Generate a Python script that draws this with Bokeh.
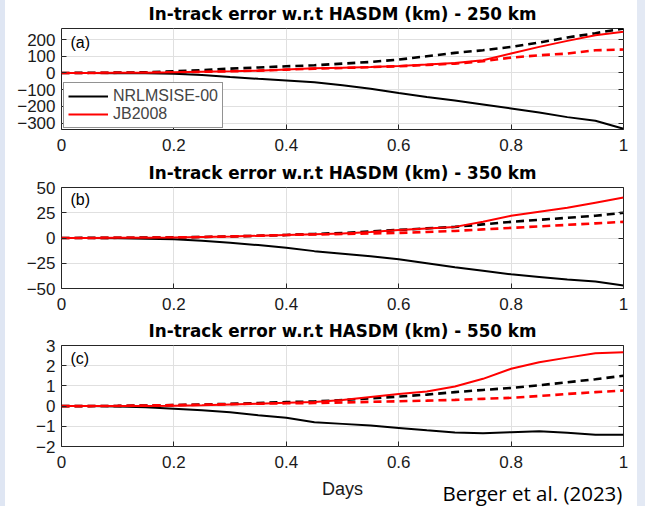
from bokeh.plotting import figure
from bokeh.models import Label, Div, FixedTicker, LinearAxis, CustomJSTickFormatter, Title
from bokeh.layouts import row, column
from bokeh.embed import file_html
from bokeh.resources import INLINE

# ---------------- data ----------------
days = [0, .05, .1, .15, .2, .25, .3, .35, .4, .45, .5, .55, .6, .65, .7, .75, .8, .85, .9, .95, 1.0]

# (a) 250 km
nrl_a = [0, 0, -1, -2, -5, -12, -24, -35, -45, -55, -74, -94, -120, -144, -164, -188, -212, -236, -264, -286, -334]
jb_a = [0, 0, 1, 2, 4, 7, 10, 14, 21, 28, 31, 36, 42, 50, 60, 76, 116, 156, 192, 226, 246]
nrl_a_dash = [0, 1, 2, 4, 10, 17, 26, 33, 40, 46, 56, 66, 80, 100, 120, 136, 156, 182, 212, 238, 266]
jb_a_dash = [0, 0, 1, 2, 4, 7, 10, 14, 20, 26, 30, 35, 40, 48, 56, 70, 92, 106, 116, 136, 140]

# (b) 350 km
nrl_b = [0, 0, -0.3, -0.7, -1.3, -2.8, -4.7, -7, -9.7, -13, -15.5, -18, -21, -25, -29, -32.5, -36, -38.5, -41, -43, -47]
jb_b = [0, 0, 0.2, 0.3, 0.5, 1, 1.5, 2.2, 3, 3.7, 4.5, 6, 8, 9.5, 11, 16, 22, 26, 30, 35, 40]
nrl_b_dash = [0, 0.1, 0.2, 0.4, 0.6, 1, 1.5, 2.2, 3, 4, 5, 6.5, 8, 9.5, 11, 13.5, 16, 18, 20, 22, 25]
jb_b_dash = [0, 0, 0.2, 0.3, 0.5, 1, 1.5, 2.2, 3, 3.5, 4, 4.5, 5, 6, 7, 8.5, 10, 11.5, 13, 14.5, 16]

# (c) 550 km
nrl_c = [0, 0, -0.02, -0.06, -0.13, -0.2, -0.3, -0.45, -0.58, -0.8, -0.88, -0.96, -1.08, -1.2, -1.31, -1.34, -1.29, -1.24, -1.32, -1.42, -1.42]
jb_c = [0, 0, 0, 0.01, 0.02, 0.04, 0.08, 0.12, 0.17, 0.2, 0.3, 0.45, 0.6, 0.72, 0.97, 1.35, 1.85, 2.17, 2.4, 2.62, 2.67]
nrl_c_dash = [0, 0, 0.01, 0.03, 0.05, 0.08, 0.11, 0.15, 0.2, 0.23, 0.3, 0.38, 0.47, 0.57, 0.69, 0.8, 0.9, 1.03, 1.18, 1.33, 1.5]
jb_c_dash = [0, 0, 0.01, 0.03, 0.05, 0.07, 0.1, 0.12, 0.14, 0.15, 0.18, 0.21, 0.24, 0.27, 0.31, 0.36, 0.41, 0.5, 0.6, 0.69, 0.77]

x_ticks = [0, 0.2, 0.4, 0.6, 0.8, 1.0]
x_tick_labels = ["0", "0.2", "0.4", "0.6", "0.8", "1"]
y_ticks_a = [-300, -200, -100, 0, 100, 200]
y_ticks_b = [-50, -25, 0, 25, 50]
y_ticks_c = [-2, -1, 0, 1, 2, 3]

titles = ["In-track error w.r.t HASDM (km) - 250 km",
          "In-track error w.r.t HASDM (km) - 350 km",
          "In-track error w.r.t HASDM (km) - 550 km"]
panel_tags = ["(a)", "(b)", "(c)"]
legend_names = ["NRLMSISE-00", "JB2008"]
x_title = "Days"
credit = "Berger et al. (2023)"

FONT = "Liberation Sans"
DARK = "#262626"
GRID = "#e0e0e0"
RED = "#ff0000"
W = 632


def make_panel(title, tag, yr, yticks, series, height, bottom_border, tag_off, legend=False):
    nrl, jb, nrl_d, jb_d = series
    p = figure(width=W, height=height, x_range=(0, 1), y_range=yr,
               output_backend="svg", toolbar_location=None,
               min_border_left=56, min_border_right=14, min_border_top=28,
               min_border_bottom=bottom_border, background_fill_color="white",
               border_fill_color="white", outline_line_color=DARK, outline_line_width=1)
    p.title = Title(text=title, align="center", text_font="DejaVu Sans",
                    text_font_style="bold", text_font_size="16.8px", text_color="black",
                    standoff=6, vertical_align="top")
    p.line(days, nrl_d, line_color="black", line_width=2.6, line_dash="8 5")
    p.line(days, jb_d, line_color=RED, line_width=2.6, line_dash="8 5")
    if legend:
        p.line(days, nrl, line_color="black", line_width=2, legend_label=legend_names[0])
        p.line(days, jb, line_color=RED, line_width=2, legend_label=legend_names[1])
    else:
        p.line(days, nrl, line_color="black", line_width=2)
        p.line(days, jb, line_color=RED, line_width=2)

    p.xaxis.ticker = FixedTicker(ticks=x_ticks)
    p.xaxis.major_label_overrides = {t: l for t, l in zip(x_ticks, x_tick_labels)}
    p.yaxis.ticker = FixedTicker(ticks=yticks)
    for ax in (p.xaxis[0], p.yaxis[0]):
        ax.axis_line_color = None
        ax.major_tick_in = 5
        ax.major_tick_out = 0
        ax.major_tick_line_color = DARK
        ax.minor_tick_line_color = None
        ax.major_label_text_font = FONT
        ax.major_label_text_font_size = "17px"
        ax.major_label_text_color = "#1a1a1a"
    p.xaxis.major_label_standoff = 9
    p.yaxis.major_label_standoff = 6

    ra = LinearAxis(ticker=FixedTicker(ticks=yticks),
                    formatter=CustomJSTickFormatter(code="return ''"))
    ra.axis_line_color = None
    ra.major_tick_in = 5
    ra.major_tick_out = 0
    ra.major_tick_line_color = DARK
    ra.minor_tick_line_color = None
    ra.major_label_standoff = 0
    p.add_layout(ra, "right")

    p.grid.grid_line_color = GRID
    p.xgrid.ticker = FixedTicker(ticks=x_ticks)
    p.ygrid.ticker = FixedTicker(ticks=yticks)

    p.add_layout(Label(x=0.016, y=yr[1], y_offset=tag_off, text=tag, text_baseline="top",
                       text_font=FONT, text_font_size="16px", text_color="black"))

    if legend:
        lg = p.legend[0]
        lg.location = (2, 1)
        lg.margin = 0
        lg.padding = 4
        lg.spacing = 0
        lg.glyph_width = 40
        lg.glyph_height = 18
        lg.label_height = 18
        lg.label_standoff = 5
        lg.label_text_font = FONT
        lg.label_text_font_size = "16px"
        lg.border_line_color = DARK
        lg.border_line_width = 1
        lg.background_fill_alpha = 1
    return p


pa = make_panel(titles[0], panel_tags[0], (-338, 266), y_ticks_a,
                (nrl_a, jb_a, nrl_a_dash, jb_a_dash), 159, 30, -5, legend=True)
pb = make_panel(titles[1], panel_tags[1], (-50, 50), y_ticks_b,
                (nrl_b, jb_b, nrl_b_dash, jb_b_dash), 158, 29, -3)
pc = make_panel(titles[2], panel_tags[2], (-2, 3), y_ticks_c,
                (nrl_c, jb_c, nrl_c_dash, jb_c_dash), 160, 31, -4)

# footer strip: x-axis title and credit line (frame aligned with the panels)
FH = 29
foot = figure(width=W, height=FH, x_range=(0, 1), y_range=(0, FH),
              output_backend="svg", toolbar_location=None,
              min_border_left=56, min_border_right=14, min_border_top=0, min_border_bottom=0,
              outline_line_color=None,
              background_fill_color="white", border_fill_color="white")
foot.axis.visible = False
foot.grid.visible = False
foot.add_layout(Label(x=0.5, y=FH - 11, text=x_title, text_align="center",
                      text_baseline="middle", text_font=FONT, text_font_size="18px",
                      text_color="#1a1a1a"))
foot.add_layout(Label(x=0.998, y=14, text=credit, text_align="right",
                      text_baseline="middle", text_font="Open Sans",
                      text_font_size="20.5px", text_color="black"))

left_strip = Div(width=5, height=506, margin=0, styles={"background-color": "#dfe6f3"})
right_strip = Div(width=8, height=506, margin=0, styles={"background-color": "#e3e9f4"})
layout = row(left_strip, column(pa, pb, pc, foot, spacing=0), right_strip, spacing=0)

open("out.html", "w").write(file_html(layout, INLINE))
